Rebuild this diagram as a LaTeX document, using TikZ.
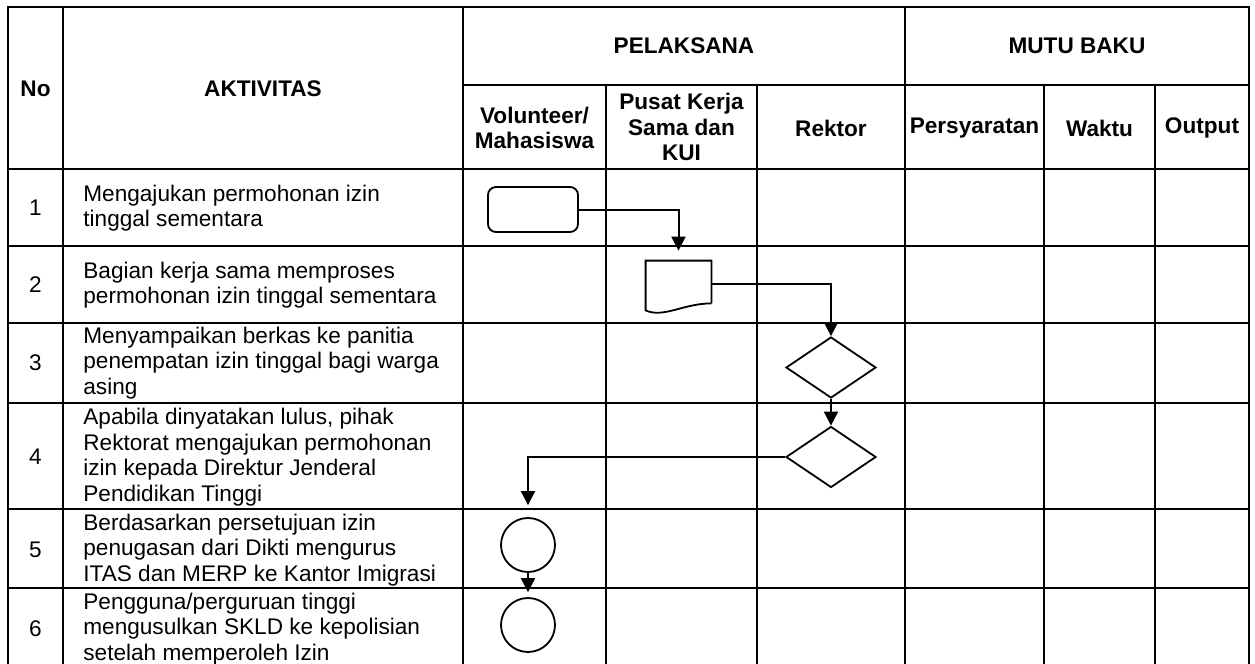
\documentclass[tikz,border=0pt]{standalone}
\usepackage{fontspec}
\setmainfont{Liberation Sans}
\usetikzlibrary{arrows.meta,shapes.geometric}
\newcommand{\tabfont}{\fontsize{11.3}{12.75}\selectfont}

\begin{document}
\begin{tikzpicture}[
    x=0.5pt, y=-0.5pt,
    font=\tabfont,
    grid/.style={line width=1.4pt, line cap=rect},
    head/.style={font=\tabfont\bfseries, align=center, inner sep=0pt},
    cell/.style={align=left, anchor=west, inner sep=0pt},
    outline/.style={draw, line width=0.9pt},
    startbox/.style={outline, rounded corners=4pt, minimum width=45pt, minimum height=22.5pt},
    decision/.style={outline, diamond, inner sep=0pt, minimum width=45pt, minimum height=30.5pt},
    terminal/.style={outline, circle, inner sep=0pt, minimum size=27pt},
    link/.style={-{Triangle[length=7pt,width=7pt]}, line width=1pt}
]
\useasboundingbox (0,0) rectangle (1255,664);

\foreach \x in {8,63,463,905,1249} \draw[grid] (\x,7) -- (\x,664);
\foreach \x in {606,757,1044,1155} \draw[grid] (\x,85) -- (\x,664);
\draw[grid] (463,85) -- (1249,85);
\foreach \y in {7,169,246,323,403,509,588} \draw[grid] (8,\y) -- (1249,\y);

\node[head] (no) at (35.5,89) {No};
\node[head] (aktivitas) at (263,89) {AKTIVITAS};
\node[head] (pelaksana) at (684,46) {PELAKSANA};
\node[head] (mutu) at (1077,46) {MUTU BAKU};
\node[head] (volunteer) at (534.5,128) {Volunteer/\\Mahasiswa};
\node[head] (pusat) at (681.5,127) {Pusat Kerja\\Sama dan\\KUI};
\node[head] (rektor) at (831,128) {Rektor};
\node[head] (syarat) at (974.5,128) {Persyaratan};
\node[head] (waktu) at (1099.5,128) {Waktu};
\node[head] (output) at (1202,128) {Output};

\foreach \n/\y in {1/208, 2/285, 3/363, 4/457, 5/550, 6/629}
    \node (nomor\n) at (35.5,\y) {\n};

\node[cell] (akt1) at (83,208) {Mengajukan permohonan izin\\tinggal sementara};
\node[cell] (akt2) at (83,285) {Bagian kerja sama memproses\\permohonan izin tinggal sementara};
\node[cell] (akt3) at (83,363) {Menyampaikan berkas ke panitia\\penempatan izin tinggal bagi warga\\asing};
\node[cell] (akt4) at (83,457) {Apabila dinyatakan lulus, pihak\\Rektorat mengajukan permohonan\\izin kepada Direktur Jenderal\\Pendidikan Tinggi};
\node[cell] (akt5) at (83,550) {Berdasarkan persetujuan izin\\penugasan dari Dikti mengurus\\ITAS dan MERP ke Kantor Imigrasi};
\node[cell] (akt6) at (83,629) {Pengguna/perguruan tinggi\\mengusulkan SKLD ke kepolisian\\setelah memperoleh Izin};

\node[startbox] (mulai) at (533,209.5) {};
\node[inner sep=0pt, minimum width=32.5pt, minimum height=23pt] (berkas) at (678.5,284) {};
\draw[outline] ([yshift=2pt]berkas.south east) -- (berkas.north east) -- (berkas.north west)
    -- ([yshift=-1.5pt]berkas.south west) .. controls +(9pt,-4pt) and +(-14pt,0pt) .. ([yshift=2pt]berkas.south east);
\node[decision] (cek) at (831,367.5) {};
\node[decision] (lulus) at (831,457) {};
\node[terminal] (itas) at (528,545) {};
\node[terminal] (skld) at (528,625) {};

\draw[link, shorten >=5pt] (mulai.east) -| (berkas.north);
\draw[link] (berkas.east) -| (cek.north);
\draw[link] (cek.south) -- (lulus.north);
\draw[link, shorten >=6pt] (lulus.west) -| (itas.north);
\draw[link, shorten >=2.5pt] (itas.south) -- (skld.north);
\end{tikzpicture}
\end{document}
